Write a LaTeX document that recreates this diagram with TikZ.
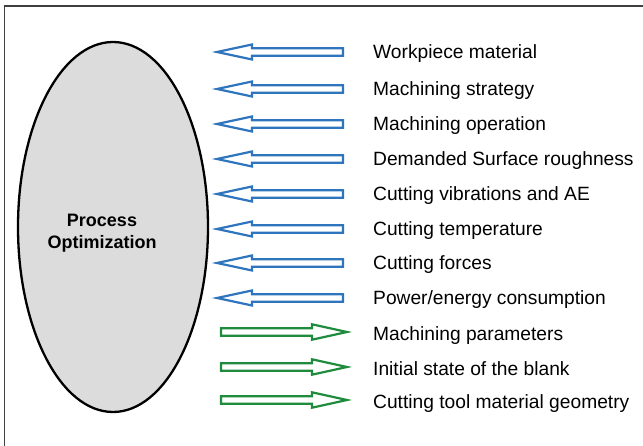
\documentclass[tikz,border=0pt]{standalone}
\usepackage{fontspec}
\setmainfont{Liberation Sans}
\usetikzlibrary{shapes.geometric}
\definecolor{inblue}{RGB}{46,117,190}
\definecolor{outgreen}{RGB}{30,140,60}
\definecolor{panelgray}{RGB}{220,220,220}
\begin{document}
\begin{tikzpicture}[x=1pt,y=-1pt,
  frame/.style={draw=black!75,line width=1.3pt},
  hub/.style={ellipse,draw=black,line width=2.3pt,fill=panelgray,
              minimum width=190pt,minimum height=370pt,inner sep=0pt},
  hubtext/.style={align=center,inner sep=0pt,font=\bfseries\fontsize{18}{22.3}\selectfont},
  inarrow/.style={draw=inblue,line width=2.2pt,fill=white,line join=miter},
  outarrow/.style={draw=outgreen,line width=2.2pt,fill=white,line join=miter},
  factor/.style={anchor=base west,font=\fontsize{19.2}{20}\selectfont,inner sep=0pt}]
\useasboundingbox (0,0) rectangle (643,446);
\begin{scope}
\clip (0,0) rectangle (643,446);
\draw[frame] (4.5,6) rectangle (660,470);
\end{scope}

% central ellipse
\node[hub] (hub) at (113,227) {};
\node[hubtext] (hublabel) at (102,233) {Process\\Optimization};

% influencing factors (arrows pointing to the process)
\foreach \y/\name/\txt in {52/f1/{Workpiece material},
                            89/f2/{Machining strategy},
                            124/f3/{Machining operation},
                            159/f4/{Demanded Surface roughness},
                            194/f5/{Cutting vibrations and AE},
                            229/f6/{Cutting temperature},
                            263/f7/{Cutting forces},
                            298/f8/{Power/energy consumption}}{
  \draw[inarrow] (217,\y) -- (252,\y-7.5) -- (252,\y-3.7) -- (343,\y-3.7)
                 -- (343,\y+3.7) -- (252,\y+3.7) -- (252,\y+7.5) -- cycle;
  \node[factor] (\name) at (373,\y+7) {\txt};
}

% resulting outputs (arrows pointing away)
\foreach \y/\name/\txt in {332/g1/{Machining parameters},
                            367/g2/{Initial state of the blank},
                            400/g3/{Cutting tool material geometry}}{
  \draw[outarrow] (347,\y) -- (312,\y-7.7) -- (312,\y-3.8) -- (221,\y-3.8)
                  -- (221,\y+3.8) -- (312,\y+3.8) -- (312,\y+7.7) -- cycle;
  \node[factor] (\name) at (373,\y+8.5) {\txt};
}
\end{tikzpicture}
\end{document}
